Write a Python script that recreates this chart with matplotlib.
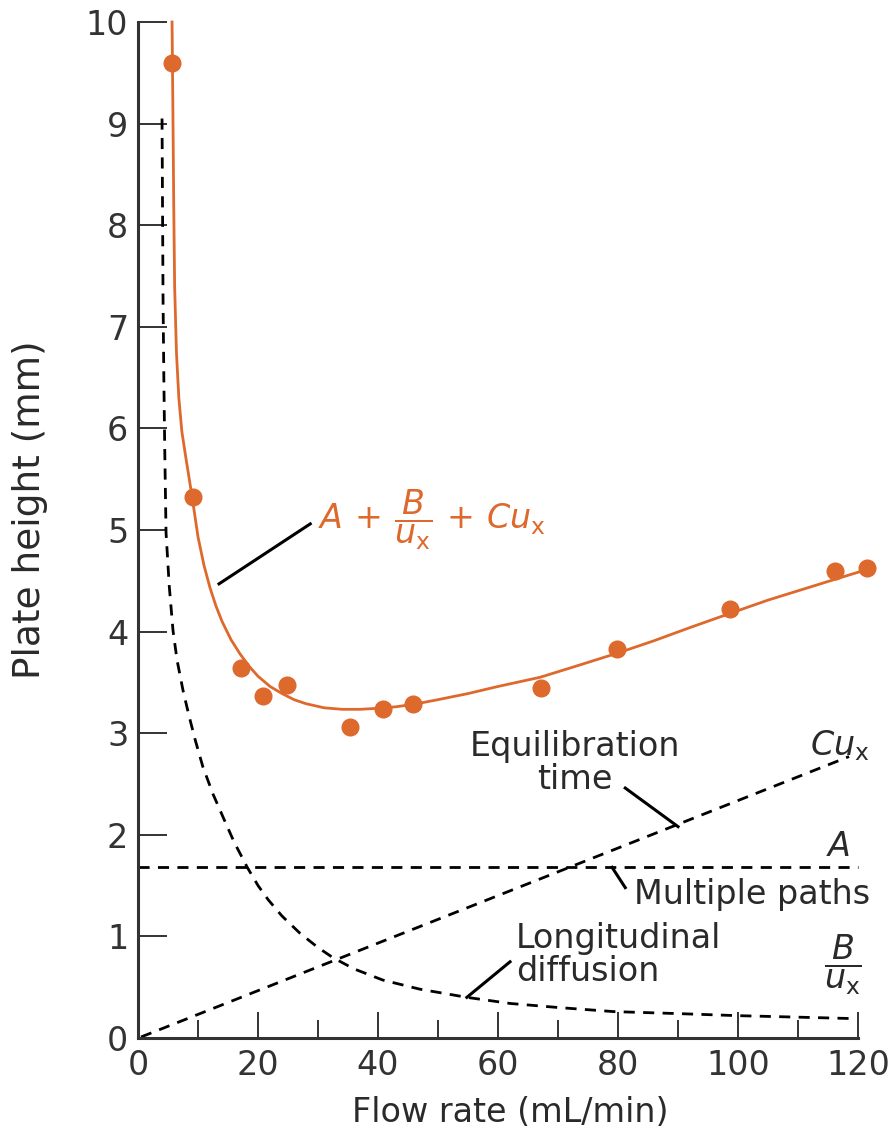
import matplotlib
matplotlib.use("Agg")
import matplotlib.pyplot as plt
from matplotlib.ticker import MultipleLocator

plt.rcParams["font.family"] = ["DejaVu Sans"]
plt.rcParams["mathtext.fontset"] = "dejavusans"

# ---- data ----
# measured plate heights
flow_pts = [5.7, 9.2, 17.2, 20.8, 24.8, 35.3, 40.8, 45.8, 67.2, 79.8, 98.7, 116.2, 121.5]
height_pts = [9.60, 5.32, 3.64, 3.37, 3.47, 3.06, 3.24, 3.29, 3.44, 3.83, 4.22, 4.60, 4.63]

# fitted curve A + B/u + Cu
fit_x = [5.67, 5.8, 5.95, 6.1, 6.4, 6.8, 7.3, 8.0, 9.0, 10.0, 11.0, 12.0, 13.0, 14.0,
         15.5, 17.0, 18.5, 20.0, 22.0, 24.0, 26.0, 28.0, 31.0, 34.0, 37.0, 40.0, 43.0,
         46.0, 50.0, 55.0, 60.0, 67.0, 73.0, 80.0, 86.0, 92.0, 98.7, 105.0, 111.0,
         117.0, 122.0]
fit_y = [10.0, 9.2, 8.2, 7.4, 6.75, 6.3, 5.97, 5.70, 5.33, 4.93, 4.65, 4.43, 4.25, 4.10,
         3.92, 3.78, 3.66, 3.56, 3.46, 3.39, 3.33, 3.29, 3.25, 3.235, 3.235, 3.245, 3.26,
         3.285, 3.33, 3.39, 3.46, 3.55, 3.66, 3.79, 3.91, 4.04, 4.18, 4.31, 4.42,
         4.53, 4.62]

# B/u term (traced)
bu_x = [4.0, 4.1, 4.17, 4.3, 4.45, 4.67, 5.2, 5.83, 6.5, 7.5, 8.5, 9.5, 10.8, 12.5,
        14.2, 16.0, 18.2, 20.0, 21.7, 24.0, 27.0, 30.0, 32.5, 36.0, 40.8, 47.0, 54.8,
        62.0, 70.0, 79.2, 90.0, 99.8, 110.0, 119.8]
bu_y = [9.05, 8.0, 7.26, 6.5, 5.8, 4.97, 4.45, 4.01, 3.72, 3.42, 3.17, 2.94, 2.67, 2.40,
        2.17, 1.93, 1.68, 1.50, 1.36, 1.20, 1.03, 0.89, 0.79, 0.68, 0.57, 0.48, 0.40,
        0.34, 0.30, 0.26, 0.24, 0.22, 0.205, 0.19]

# Cu term and A term
cu_x = [0.5, 118.5]
cu_y = [0.01, 2.77]
a_x = [0, 120]
a_y = [1.68, 1.68]

orange = "#DD692C"
ink = "#2a2a2a"
fs = 24

fig = plt.figure(figsize=(8.94, 11.28), dpi=100)
ax = fig.add_axes([0.1544, 0.0798, 0.8054, 0.9007])

dash = (0, (4, 3))
ax.plot(bu_x, bu_y, color="black", lw=2.0, linestyle=dash, clip_on=False)
ax.plot(cu_x, cu_y, color="black", lw=2.0, linestyle=dash, clip_on=False)
ax.plot(a_x, a_y, color="black", lw=2.0, linestyle=dash, clip_on=False)

ax.plot(fit_x, fit_y, color=orange, lw=2.0, clip_on=False, zorder=3)
ax.plot(flow_pts, height_pts, "o", color=orange, ms=12, clip_on=False, zorder=4)

# labels and pointer lines
ax.plot([13.5, 28.7], [4.47, 5.06], color="black", lw=2.2)
ax.text(30, 5.1, r"$A\,+\,\dfrac{B}{u_\mathrm{x}}\,+\,Cu_\mathrm{x}$", color=orange,
        fontsize=fs, ha="left", va="center")

ax.text(72.8, 2.71, "Equilibration\ntime", color=ink, fontsize=fs, ha="center",
        va="center", linespacing=1.0)
ax.plot([81.2, 90.0], [2.46, 2.08], color="black", lw=2.2)
ax.text(117, 2.88, r"$Cu_\mathrm{x}$", color=ink, fontsize=fs, ha="center", va="center",
        clip_on=False)

ax.text(116.7, 1.88, r"$A$", color=ink, fontsize=fs, ha="center", va="center")
ax.plot([79.0, 81.2], [1.68, 1.48], color="black", lw=2.2)
ax.text(82.6, 1.41, "Multiple paths", color=ink, fontsize=fs, ha="left", va="center",
        clip_on=False)

ax.text(63.0, 0.82, "Longitudinal\ndiffusion", color=ink, fontsize=fs, ha="left",
        va="center", linespacing=1.0)
ax.plot([62.0, 54.8], [0.75, 0.40], color="black", lw=2.2)
ax.text(117.5, 0.72, r"$\dfrac{B}{u_\mathrm{x}}$", color=ink, fontsize=fs, ha="center",
        va="center", clip_on=False)

# axes styling
ax.set_xlim(0, 120)
ax.set_ylim(0, 10)
ax.spines["top"].set_visible(False)
ax.spines["right"].set_visible(False)
for s in ["left", "bottom"]:
    ax.spines[s].set_linewidth(2.2)
    ax.spines[s].set_color("#333333")

ax.xaxis.set_major_locator(MultipleLocator(20))
ax.xaxis.set_minor_locator(MultipleLocator(10))
ax.yaxis.set_major_locator(MultipleLocator(1))
ax.tick_params(axis="x", which="major", direction="in", length=19, width=1.4,
               labelsize=fs, pad=8, colors="#333333")
ax.tick_params(axis="x", which="minor", direction="in", length=13, width=1.4,
               colors="#333333")
ax.tick_params(axis="y", direction="in", length=21, width=1.4, labelsize=fs, pad=7,
               colors="#333333")

ax.set_xlabel("Flow rate (mL/min)", fontsize=fs, color=ink)
ax.set_ylabel("Plate height (mm)", fontsize=27, color=ink)
ax.xaxis.set_label_coords(0.517, -0.057)
ax.yaxis.set_label_coords(-0.125, 0.52)

fig.savefig("out.png", dpi=100)
